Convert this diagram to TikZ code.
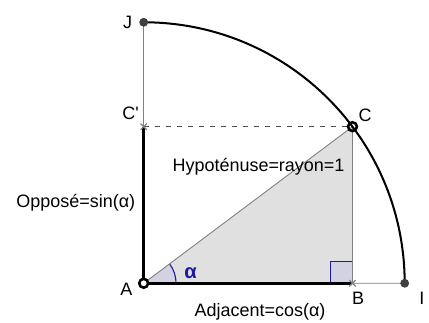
\documentclass[tikz,border=0pt]{standalone}
\usepackage{fontspec}
\setmainfont{Liberation Sans}
\usetikzlibrary{angles,quotes}
\definecolor{trifill}{HTML}{E0E0E0}
\definecolor{angblue}{HTML}{1A1AA6}
\definecolor{angfill}{HTML}{D2D2E2}
\definecolor{thingray}{HTML}{808080}
\tikzset{
  lbl/.style={font=\fontsize{9.8}{11}\selectfont,inner sep=1pt},
  thinline/.style={thingray,line width=0.5pt},
  boldline/.style={black,line width=1.4pt},
  cross/.style={thingray,line width=0.6pt}
}
\begin{document}
\begin{tikzpicture}[>=latex]
\useasboundingbox (-2.753,-0.7605) rectangle (5.466,5.427);
\coordinate (A) at (0,0);
\coordinate (B) at (4,0);
\coordinate (C) at (4,3);
\coordinate (Cp) at (0,3);
\coordinate (I) at (5,0);
\coordinate (J) at (0,5);
\newcommand{\crossat}[1]{\draw[cross] (#1) ++(-0.06,-0.06) -- ++(0.12,0.12) (#1) ++(-0.06,0.06) -- ++(0.12,-0.12);}
  \fill[trifill] (A) -- (B) -- (C) -- cycle;
  %%%%%%%%%%%%%%%% angle marks
  \draw[angblue,fill=angfill,line width=0.6pt] (B) ++(-0.42,0) rectangle ++(0.42,0.42);
  \path (B) -- (A) -- (C) pic[draw=angblue,fill=angfill,line width=0.6pt,angle radius=0.62cm] {angle = B--A--C};
  %%%%%%%%%%%%%%%%
  \draw[thinline] (A) -- (C) -- (B) -- (I);
  \draw[thinline] (Cp) -- (J);
  \draw[thingray!60!black,dashed,line width=0.6pt] (Cp) -- (C);
  \draw[boldline] (A) -- (B);
  \draw[boldline] (A) -- (Cp);
  \draw[black,line width=1.1pt] (I) arc[start angle=0,end angle=90,radius=5];
  \crossat{B}
  \crossat{Cp}
  \fill[black!75] (I) circle (0.085) (J) circle (0.085);
  \draw[black,line width=1.4pt,fill=white] (A) circle (0.085);
  \draw[black,line width=1.4pt] (C) circle (0.085);
  %%%%%%%%%%%%%%%% labels
  \node[lbl] (lA) at (-0.33,-0.11) {A};
  \node[lbl] (lB) at (4.11,-0.28) {B};
  \node[lbl] (lC) at (4.24,3.22) {C};
  \node[lbl] (lCp) at (-0.25,3.26) {C\textquotesingle};
  \node[lbl] (lI) at (5.33,-0.29) {I};
  \node[lbl] (lJ) at (-0.31,5.0) {J};
  \node[lbl,text=angblue,font=\fontsize{11}{12}\selectfont\bfseries] (lalpha) at (0.9,0.2) {α};
  \node[lbl] (hyp) at (2.2,2.23) {Hypoténuse=rayon=1};
  \node[lbl,anchor=east] (opp) at (-0.12,1.54) {Opposé=sin(α)};
  \node[lbl] (adj) at (2.23,-0.55) {Adjacent=cos(α)};
\end{tikzpicture}
\end{document}
